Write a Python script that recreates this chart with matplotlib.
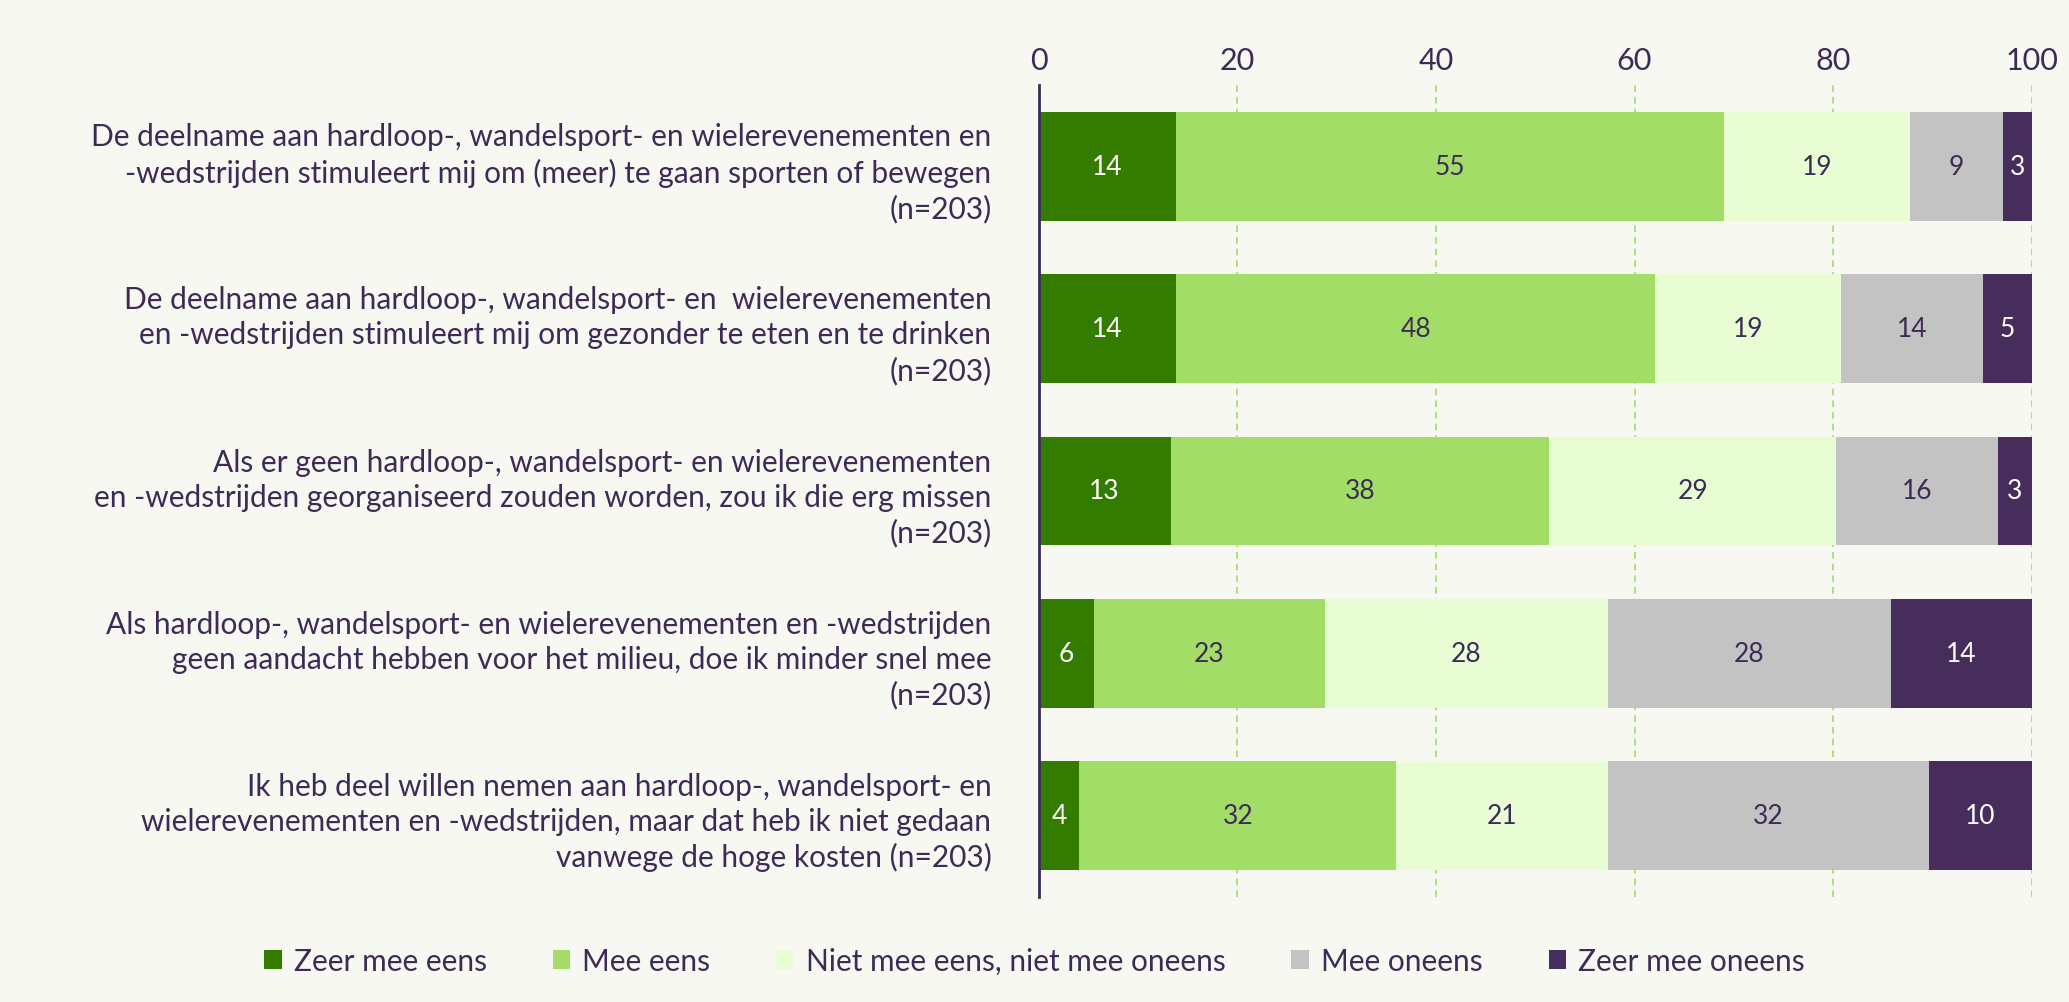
import matplotlib
matplotlib.use("Agg")
import matplotlib.pyplot as plt
import numpy as np

categories = [
    "De deelname aan hardloop-, wandelsport- en wielerevenementen en\n-wedstrijden stimuleert mij om (meer) te gaan sporten of bewegen\n(n=203)",
    "De deelname aan hardloop-, wandelsport- en  wielerevenementen\nen -wedstrijden stimuleert mij om gezonder te eten en te drinken\n(n=203)",
    "Als er geen hardloop-, wandelsport- en wielerevenementen\nen -wedstrijden georganiseerd zouden worden, zou ik die erg missen\n(n=203)",
    "Als hardloop-, wandelsport- en wielerevenementen en -wedstrijden\ngeen aandacht hebben voor het milieu, doe ik minder snel mee\n(n=203)",
    "Ik heb deel willen nemen aan hardloop-, wandelsport- en\nwielerevenementen en -wedstrijden, maar dat heb ik niet gedaan\nvanwege de hoge kosten (n=203)",
]
series = ["Zeer mee eens", "Mee eens", "Niet mee eens, niet mee oneens", "Mee oneens", "Zeer mee oneens"]
zeer_eens = [13.8, 13.8, 13.3, 5.6, 4.1]
eens = [55.2, 48.3, 38.1, 23.2, 31.9]
neutraal = [18.7, 18.7, 28.9, 28.5, 21.3]
oneens = [9.4, 14.3, 16.3, 28.5, 32.4]
zeer_oneens = [2.9, 4.9, 3.4, 14.2, 10.3]
colors = ["#347c00", "#a2dd67", "#e9fdd5", "#c3c3c3", "#472d5b"]
textc = ["#ffffff", "#3d2b56", "#3d2b56", "#3d2b56", "#ffffff"]
tick_values = [0, 20, 40, 60, 80, 100]

plt.rcParams['font.family'] = ['Lato', 'DejaVu Sans']
purple = "#3d2b56"
fig = plt.figure(figsize=(20.69, 10.03), dpi=100, facecolor="#f8f8f3")
ax = fig.add_axes([0.502, 0.105, 0.48, 0.809], facecolor="#f8f8f3")
y = np.arange(len(categories))
left = np.zeros(len(categories))
for vals, c, tc, name in zip([zeer_eens, eens, neutraal, oneens, zeer_oneens], colors, textc, series):
    v = np.array(vals)
    ax.barh(y, v, left=left, height=0.67, color=c, label=name, zorder=3)
    for yi, l, w in zip(y, left, v):
        ax.text(l + w / 2, yi, f"{round(w):d}", ha="center", va="center", color=tc, fontsize=19, zorder=4)
    left += v
ax.set_ylim(len(categories) - 0.5, -0.5)
ax.set_xlim(0, 100)
ax.set_xticks(tick_values)
ax.xaxis.tick_top()
ax.tick_params(axis="x", length=0, labelsize=22, labelcolor=purple, pad=8)
ax.set_yticks(y)
ax.set_yticklabels(categories, fontsize=21.5, color=purple, linespacing=1.3)
ax.tick_params(axis="y", length=0, pad=34)
for t in ax.get_yticklabels():
    t.set_ha("right")
ax.grid(axis="x", color="#a2dd67", linestyle=(0, (4, 3)), linewidth=1.2, zorder=0)
for s in ["top", "right", "bottom"]:
    ax.spines[s].set_visible(False)
ax.spines["left"].set_color(purple)
ax.spines["left"].set_linewidth(2)
ax.spines["left"].set_zorder(5)
fig.legend(loc="lower center", bbox_to_anchor=(0.5, 0.0), ncol=5, frameon=False, fontsize=21.5,
           handlelength=0.6, handleheight=0.6, columnspacing=2.2, handletextpad=0.4, labelcolor=purple)
fig.savefig("out.png", dpi=100, facecolor=fig.get_facecolor())
